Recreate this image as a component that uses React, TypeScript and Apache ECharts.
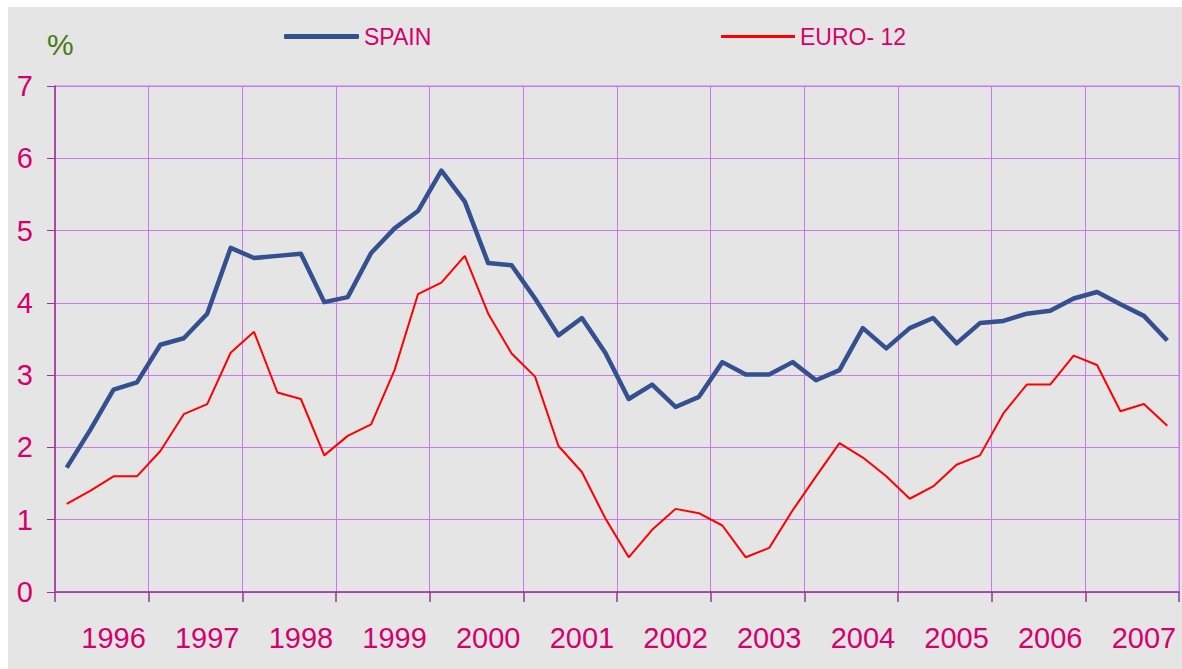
import React, { useEffect, useRef } from "react";
import * as echarts from "echarts";

const years = ["1996", "1997", "1998", "1999", "2000", "2001", "2002", "2003", "2004", "2005", "2006", "2007"];
const quarters = years.flatMap((y) => ["Q1", "Q2", "Q3", "Q4"].map((q) => `${y} ${q}`));

const spain = [
  1.72, 2.24, 2.8, 2.9, 3.42, 3.51, 3.85, 4.76,
  4.62, 4.65, 4.68, 4.01, 4.08, 4.69, 5.03, 5.27,
  5.83, 5.4, 4.55, 4.52, 4.06, 3.55, 3.79, 3.31,
  2.67, 2.87, 2.56, 2.7, 3.18, 3.01, 3.01, 3.18,
  2.93, 3.07, 3.65, 3.37, 3.65, 3.79, 3.44, 3.72,
  3.75, 3.85, 3.89, 4.06, 4.15, 3.98, 3.82, 3.48,
];
const euro12 = [
  1.22, 1.4, 1.6, 1.6, 1.95, 2.46, 2.6, 3.31,
  3.6, 2.76, 2.67, 1.89, 2.16, 2.32, 3.07, 4.12,
  4.28, 4.65, 3.85, 3.3, 2.98, 2.02, 1.66, 1.02,
  0.48, 0.86, 1.15, 1.09, 0.92, 0.48, 0.61, 1.13,
  1.6, 2.06, 1.86, 1.6, 1.29, 1.46, 1.76, 1.89,
  2.47, 2.87, 2.87, 3.27, 3.14, 2.5, 2.6, 2.3,
];

const FONT = "'Liberation Sans', Arial, sans-serif";
const PINK = "#d4006e";
const GRID = "#cc77f2";
const AXIS = "#993399";
const NAVY = "#34508f";
const RED = "#ff0000";

export default function App() {
  const ref = useRef<HTMLDivElement>(null);
  useEffect(() => {
    if (!ref.current) return;
    const chart = echarts.init(ref.current, undefined, { renderer: "svg" });
    chart.setOption({
      animation: false,
      backgroundColor: "#e5e5e5",
      textStyle: { fontFamily: FONT },
      grid: {
        left: 47,
        right: 3,
        top: 79,
        bottom: 77,
        show: true,
        borderColor: GRID,
        borderWidth: 1,
        backgroundColor: "transparent",
      },
      legend: [
        {
          data: ["SPAIN"],
          left: 276,
          top: 18,
          padding: 0,
          icon: "roundRect",
          itemWidth: 75,
          itemHeight: 5,
          textStyle: { color: PINK, fontSize: 23, fontFamily: FONT },
        },
        {
          data: ["EURO- 12"],
          left: 713,
          top: 18,
          padding: 0,
          icon: "rect",
          itemWidth: 74,
          itemHeight: 3,
          textStyle: { color: PINK, fontSize: 23, fontFamily: FONT },
        },
      ],
      graphic: [
        {
          type: "text",
          left: 39,
          top: 22,
          style: { text: "%", fill: "#4a7a12", fontSize: 30, fontFamily: FONT },
        },
      ],
      xAxis: {
        type: "category",
        data: quarters,
        boundaryGap: true,
        axisLine: { lineStyle: { color: AXIS, width: 1.5 } },
        axisTick: { show: true, interval: 3, length: 10, lineStyle: { color: AXIS, width: 1.5 } },
        splitLine: { show: true, interval: 3, lineStyle: { color: GRID, width: 1 } },
        axisLabel: {
          interval: (i: number) => i % 4 === 2,
          formatter: (v: string) => v.slice(0, 4),
          color: PINK,
          fontSize: 29,
          fontFamily: FONT,
          margin: 31,
        },
      },
      yAxis: {
        type: "value",
        min: 0,
        max: 7,
        interval: 1,
        axisLine: { show: true, lineStyle: { color: AXIS, width: 1.5 } },
        axisTick: { show: true, length: 8, lineStyle: { color: AXIS } },
        splitLine: { show: true, lineStyle: { color: GRID, width: 1 } },
        axisLabel: { color: PINK, fontSize: 29, fontFamily: FONT, margin: 22 },
      },
      series: [
        {
          name: "SPAIN",
          type: "line",
          data: spain,
          showSymbol: false,
          color: NAVY,
          lineStyle: { color: NAVY, width: 4.5, join: "round" },
          itemStyle: { color: NAVY },
        },
        {
          name: "EURO- 12",
          type: "line",
          data: euro12,
          showSymbol: false,
          color: RED,
          lineStyle: { color: RED, width: 2 },
          itemStyle: { color: RED },
        },
      ],
    });
    return () => chart.dispose();
  }, []);
  return (
    <div
      ref={ref}
      style={{ position: "fixed", left: 8, top: 7, width: 1174, height: 662 }}
    />
  );
}
